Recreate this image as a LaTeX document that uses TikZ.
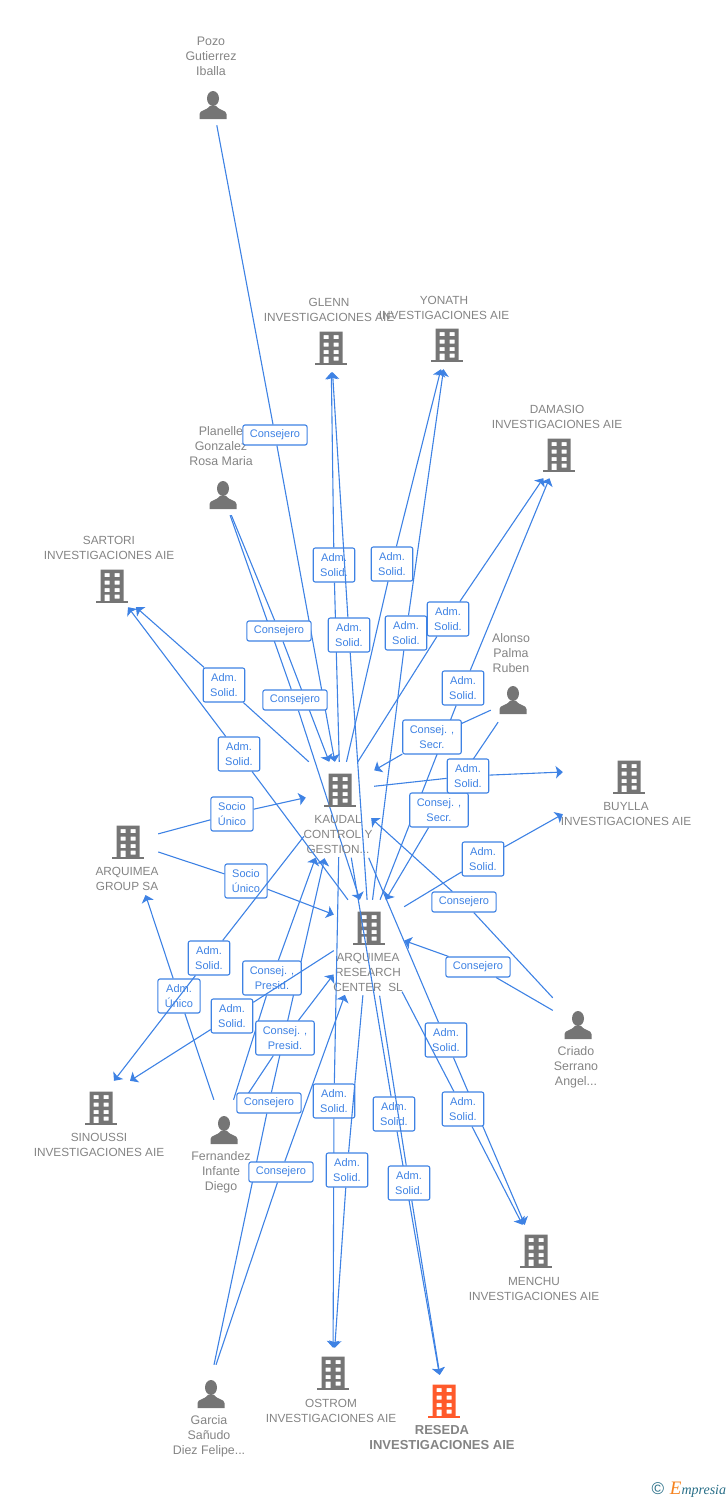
\documentclass[tikz,border=0pt]{standalone}
\usepackage{fontspec}
\setmainfont{Liberation Sans}
\newfontfamily\logofont{Liberation Serif}
\usepackage{xcolor}
\definecolor{linkblue}{RGB}{62,130,228}
\definecolor{icongray}{RGB}{117,117,117}
\definecolor{namegray}{RGB}{132,132,132}
\definecolor{resedared}{RGB}{255,90,43}
\definecolor{logoteal}{RGB}{40,110,135}
\definecolor{logoorange}{RGB}{245,130,30}
\usetikzlibrary{arrows.meta}
\usetikzlibrary{backgrounds}
\tikzset{
    common/.style={inner sep=0pt, minimum width=50pt, minimum height=48pt},
    building/.style={common, path picture={
        \begin{scope}[shift={(path picture bounding box.center)}]
            \fill[#1, even odd rule] (-11.5,-16.5) rectangle (11.5,15)
                (-7.5,-13) rectangle (-2.5,-9) (2.5,-13) rectangle (7.5,-9)
                (-7.5,-5.5) rectangle (-2.5,-1.5) (2.5,-5.5) rectangle (7.5,-1.5)
                (-7.5,2) rectangle (-2.5,6) (2.5,2) rectangle (7.5,6)
                (-7.5,8.5) rectangle (-2.5,15) (2.5,8.5) rectangle (7.5,12.5);
            \fill[#1] (-16,14.5) rectangle (16,17);
        \end{scope}
    }},
    building/.default=icongray,
    person/.style={common, minimum width=44pt, minimum height=44pt, path picture={
        \begin{scope}[shift={(path picture bounding box.center)}]
            \fill[icongray] (0,-6.5) ellipse (6pt and 7.5pt);
            \fill[icongray] (-13.5,14) -- (-13.5,9) .. controls (-13.5,5) and (-6,5.5) .. (-3,1)
                -- (3,1) .. controls (6,5.5) and (13.5,5) .. (13.5,9) -- (13.5,14) -- cycle;
        \end{scope}
    }},
    caption/.style={text=namegray, align=center, inner sep=0pt, font=\fontsize{11.8}{15}\selectfont},
    personcaption/.style={caption, font=\fontsize{12.4}{15}\selectfont},
    tag/.style={draw=linkblue, fill=white, rounded corners=2pt, line width=1.1pt, text=linkblue, align=center,
        inner xsep=7pt, inner ysep=0pt, minimum height=20pt, font=\fontsize{11}{15}\selectfont},
    tagtwo/.style={tag, minimum height=34pt},
    link/.style={draw=linkblue, line width=1.1pt},
    arrowlink/.style={link, -{Stealth[length=7pt, width=12.5pt, inset=1.5pt]}}
}

\begin{document}
\begin{tikzpicture}[x=1pt, y=-1pt]
    \useasboundingbox (0,0) rectangle (728,1500);

    % people
    \node[person, minimum height=40pt] (pozo) at (213,105) {};
    \node[person, minimum height=40pt] (planelle) at (223,495) {};
    \node[person] (alonso) at (513,700) {};
    \node[person, minimum width=50pt, minimum height=56pt] (criado) at (578,1025) {};
    \node[person, minimum height=60pt] (fernandez) at (224,1130) {};
    \node[person, minimum height=58pt] (garcia) at (211,1394) {};

    % companies
    \node[building] (glenn) at (331,348) {};
    \node[building] (yonath) at (447,345) {};
    \node[building, minimum height=46pt] (damasio) at (559,455) {};
    \node[building, minimum height=42pt] (sartori) at (112,586) {};
    \node[building, minimum width=132pt, minimum height=84pt] (buylla) at (629,777) {};
    \node[building, minimum width=60pt, minimum height=60pt] (group) at (128,842) {};
    \node[building, minimum width=68pt, minimum height=56pt] (kaudal) at (340,790) {};
    \node[building, minimum width=70pt, minimum height=56pt] (research) at (369,928) {};
    \node[building, minimum height=54pt] (sinoussi) at (101,1108) {};
    \node[building, minimum height=52pt] (menchu) at (536,1251) {};
    \node[building, minimum height=50pt] (ostrom) at (333,1373) {};
    \node[building=resedared, minimum height=52pt] (reseda) at (444,1401) {};

    % names
    \node[personcaption] (pozo-name) at (211,56) {Pozo\\Gutierrez\\Iballa};
    \node[personcaption] (planelle-name) at (221,446) {Planelle\\Gonzalez\\Rosa Maria};
    \node[personcaption] (alonso-name) at (511,653) {Alonso\\Palma\\Ruben};
    \node[personcaption] (criado-name) at (576,1067) {Criado\\Serrano\\Angel...};
    \node[personcaption] (fernandez-name) at (221,1172) {Fernandez\\Infante\\Diego};
    \node[personcaption] (garcia-name) at (209,1436) {Garcia\\Sañudo\\Diez Felipe...};
    \node[caption] (glenn-name) at (329,310) {GLENN\\INVESTIGACIONES AIE};
    \node[caption] (yonath-name) at (444,308) {YONATH\\INVESTIGACIONES AIE};
    \node[caption] (damasio-name) at (557,417) {DAMASIO\\INVESTIGACIONES AIE};
    \node[caption] (sartori-name) at (109,548) {SARTORI\\INVESTIGACIONES AIE};
    \node[caption] (buylla-name) at (626,814) {BUYLLA\\INVESTIGACIONES AIE};
    \node[caption] (group-name) at (127,879) {ARQUIMEA\\GROUP SA};
    \node[caption] (kaudal-name) at (338,834) {KAUDAL\\CONTROL Y\\GESTION...};
    \node[caption] (research-name) at (368,972) {ARQUIMEA\\RESEARCH\\CENTER\ \ SL};
    \node[caption] (sinoussi-name) at (99,1145) {SINOUSSI\\INVESTIGACIONES AIE};
    \node[caption] (menchu-name) at (534,1289) {MENCHU\\INVESTIGACIONES AIE};
    \node[caption] (ostrom-name) at (331,1411) {OSTROM\\INVESTIGACIONES AIE};
    \node[caption, font=\fontsize{13}{15}\selectfont\bfseries] (reseda-name) at (442,1438) {RESEDA\\INVESTIGACIONES AIE};

    % links, each one runs through its tag
    \node[tag] (pozo-kaudal) at (275,435) {Consejero};
    \node[tag] (planelle-kaudal) at (279,631) {Consejero};
    \node[tag] (planelle-research) at (295,700) {Consejero};
    \begin{scope}[on background layer]
        \draw[link] (pozo) -- (pozo-kaudal); \draw[arrowlink] (pozo-kaudal) -- (kaudal);
        \draw[link] (planelle) -- (planelle-kaudal); \draw[arrowlink] (planelle-kaudal) -- (kaudal);
        \draw[link] (planelle) -- (planelle-research); \draw[arrowlink] (planelle-research) -- (research);
    \end{scope}

    \node[tagtwo] (kaudal-sartori) at (224,685) {Adm.\\Solid.};
    \draw[link] (kaudal) -- (kaudal-sartori); \draw[arrowlink] (kaudal-sartori) -- (sartori);
    \node[tagtwo] (research-sartori) at (239,754) {Adm.\\Solid.};
    \draw[link] (research) -- (research-sartori); \draw[arrowlink] (research-sartori) -- (sartori);

    \node[tagtwo] (kaudal-glenn) at (334,565) {Adm.\\Solid.};
    \draw[link] (kaudal) -- (kaudal-glenn); \draw[arrowlink] (kaudal-glenn) -- (glenn);
    \node[tagtwo] (research-glenn) at (349,635) {Adm.\\Solid.};
    \draw[link] (research) -- (research-glenn); \draw[arrowlink] (research-glenn) -- (glenn);
    \node[tagtwo] (kaudal-yonath) at (392,564) {Adm.\\Solid.};
    \draw[link] (kaudal) -- (kaudal-yonath); \draw[arrowlink] (kaudal-yonath) -- (yonath);
    \node[tagtwo] (research-yonath) at (406,633) {Adm.\\Solid.};
    \draw[link] (research) -- (research-yonath); \draw[arrowlink] (research-yonath) -- (yonath);
    \node[tagtwo] (kaudal-damasio) at (448,619) {Adm.\\Solid.};
    \draw[link] (kaudal) -- (kaudal-damasio); \draw[arrowlink] (kaudal-damasio) -- (damasio);
    \node[tagtwo] (research-damasio) at (463,688) {Adm.\\Solid.};
    \draw[link] (research) -- (research-damasio); \draw[arrowlink] (research-damasio) -- (damasio);

    \node[tagtwo] (alonso-kaudal) at (432,737) {Consej. ,\\Secr.};
    \draw[link] (alonso) -- (alonso-kaudal); \draw[arrowlink] (alonso-kaudal) -- (kaudal);
    \node[tagtwo] (alonso-research) at (439,810) {Consej. ,\\Secr.};
    \draw[link] (alonso) -- (alonso-research); \draw[arrowlink] (alonso-research) -- (research);

    \node[tagtwo] (kaudal-buylla) at (468,776) {Adm.\\Solid.};
    \draw[link] (kaudal) -- (kaudal-buylla); \draw[arrowlink] (kaudal-buylla) -- ([yshift=5pt]buylla.west);
    \node[tagtwo] (research-buylla) at (483,859) {Adm.\\Solid.};
    \draw[link] (research) -- (research-buylla); \draw[arrowlink] (research-buylla) -- (buylla);

    \node[tagtwo] (group-kaudal) at (232,814) {Socio\\Único};
    \draw[link] (group) -- (group-kaudal); \draw[arrowlink] (group-kaudal) -- (kaudal);
    \node[tagtwo] (group-research) at (246,881) {Socio\\Único};
    \draw[link] (group) -- (group-research); \draw[arrowlink] (group-research) -- (research);

    \node[tag] (criado-kaudal) at (464,902) {Consejero};
    \draw[link] (criado) -- (criado-kaudal); \draw[arrowlink] (criado-kaudal) -- (kaudal);
    \node[tag] (criado-research) at (478,967) {Consejero};
    \draw[link] (criado) -- (criado-research); \draw[arrowlink] (criado-research) -- (research);

    \node[tagtwo] (fernandez-group) at (179,996) {Adm.\\Único};
    \draw[link] (fernandez) -- (fernandez-group); \draw[arrowlink, shorten >=24pt] (fernandez-group) -- (group);
    \node[tagtwo] (fernandez-kaudal) at (272,978) {Consej. ,\\Presid.};
    \draw[link] (fernandez) -- (fernandez-kaudal); \draw[arrowlink, shorten >=42pt] (fernandez-kaudal) -- (kaudal);
    \node[tagtwo] (fernandez-research) at (285,1038) {Consej. ,\\Presid.};
    \draw[link] (fernandez) -- (fernandez-research); \draw[arrowlink, shorten >=23pt] (fernandez-research) -- (research);

    \node[tag] (garcia-kaudal) at (269,1103) {Consejero};
    \node[tag] (garcia-research) at (281,1172) {Consejero};
    \begin{scope}[on background layer]
        \draw[link] ([xshift=3pt]garcia.north) -- (garcia-kaudal); \draw[arrowlink, shorten >=41pt] (garcia-kaudal) -- (kaudal);
        \draw[link] ([xshift=5pt]garcia.north) -- (garcia-research); \draw[arrowlink, shorten >=41pt] (garcia-research) -- (research);
    \end{scope}

    \node[tagtwo] (kaudal-sinoussi) at (209,958) {Adm.\\Solid.};
    \draw[link, shorten <=23pt] (kaudal) -- (kaudal-sinoussi); \draw[arrowlink] (kaudal-sinoussi) -- ([xshift=13pt]sinoussi.north);
    \node[tagtwo] (research-sinoussi) at (232,1016) {Adm.\\Solid.};
    \draw[link] (research) -- (research-sinoussi); \draw[arrowlink] (research-sinoussi) -- ([xshift=29pt]sinoussi.north);

    \node[tagtwo] (kaudal-ostrom) at (334,1101) {Adm.\\Solid.};
    \draw[link, shorten <=39pt] (kaudal) -- (kaudal-ostrom); \draw[arrowlink] (kaudal-ostrom) -- (ostrom);
    \node[tagtwo] (research-ostrom) at (347,1170) {Adm.\\Solid.};
    \draw[link, shorten <=39pt] (research) -- (research-ostrom); \draw[arrowlink] (research-ostrom) -- (ostrom);
    \node[tagtwo] (kaudal-reseda) at (394,1114) {Adm.\\Solid.};
    \draw[link, shorten <=40pt] (kaudal) -- (kaudal-reseda); \draw[arrowlink] (kaudal-reseda) -- (reseda);
    \node[tagtwo] (research-reseda) at (409,1183) {Adm.\\Solid.};
    \draw[link, shorten <=40pt] (research) -- (research-reseda); \draw[arrowlink] (research-reseda) -- (reseda);
    \node[tagtwo] (kaudal-menchu) at (446,1040) {Adm.\\Solid.};
    \draw[link, shorten <=43pt] (kaudal) -- (kaudal-menchu); \draw[arrowlink] (kaudal-menchu) -- (menchu);
    \node[tagtwo] (research-menchu) at (463,1109) {Adm.\\Solid.};
    \draw[link, shorten <=40pt] (research) -- (research-menchu); \draw[arrowlink] (research-menchu) -- (menchu);

    % logo
    \node[inner sep=0pt, text=logoteal, font=\fontsize{17}{17}\selectfont] (logo-mark) at (658,1489) {\textcopyright};
    \node[inner sep=0pt, text=logoteal, font=\logofont\itshape\fontsize{14}{14}\selectfont] (logo) at (698,1490) {{\color{logoorange}\fontsize{19}{19}\selectfont E}mpresia};
\end{tikzpicture}
\end{document}
